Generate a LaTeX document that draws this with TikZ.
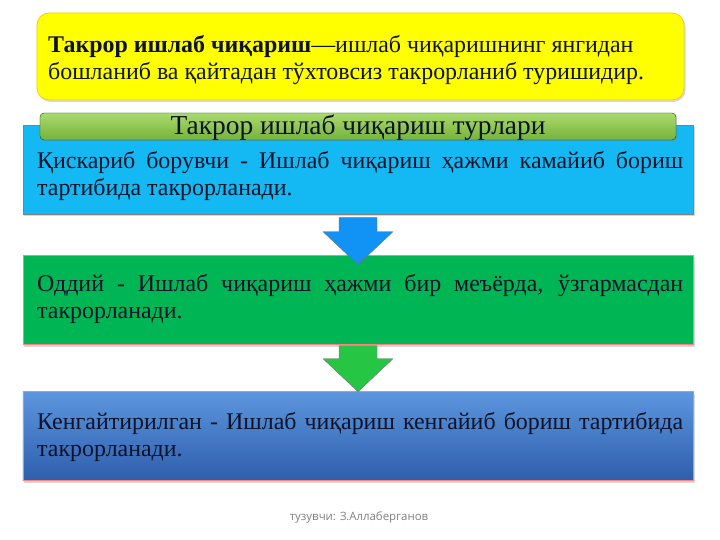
\documentclass[tikz,border=0pt]{standalone}
\usepackage{fontspec}
\setmainfont{Liberation Serif}
\newfontfamily\footfont{Open Sans}
\usetikzlibrary{calc,positioning,shadows}
\definecolor{defyellow}{RGB}{255,255,0}
\definecolor{barlight}{RGB}{170,218,110}
\definecolor{bardark}{RGB}{118,178,58}
\definecolor{kindcyan}{RGB}{20,184,242}
\definecolor{kindgreen}{RGB}{0,182,84}
\definecolor{kindbluetop}{RGB}{92,150,222}
\definecolor{kindbluebot}{RGB}{46,94,172}
\definecolor{inkdark}{RGB}{12,18,40}
\tikzset{defbox/.style = {rectangle, rounded corners=12bp, draw=yellow!65!orange, fill=defyellow, thick, minimum width=647bp, minimum height=87bp,
            drop shadow={opacity=.3,shadow xshift=1.5bp,shadow yshift=-2bp}},
        titlebar/.style = {rectangle, rounded corners=4bp, draw=green!35!black, top color=barlight, bottom color=bardark, minimum width=636bp, minimum height=27bp, inner sep=0pt,
            drop shadow={opacity=.3,shadow xshift=1bp,shadow yshift=-1.5bp}},
        kind/.style = {rectangle, draw=red!50!white, minimum width=670bp, minimum height=89bp, inner sep=0pt,
            drop shadow={opacity=.3,shadow xshift=1.5bp,shadow yshift=-2bp}},
        kindtext/.style = {anchor=west, text width=646bp, align=justify, inner sep=0pt, text=inkdark, font=\fontsize{24}{27.5}\selectfont},
        arrowbody/.style = {draw=black!55, thin}
}
% #1 from node, #2 fill, #3 shaft top, #4 head start, #5 tip
\newcommand\DownArrow[5]{%
    \draw[arrowbody,fill=#2] ($(#1.south)+(-19,#3)$) -- ($(#1.south)+(19,#3)$) -- ($(#1.south)+(19,#4)$)
        -- ($(#1.south)+(35,#4)$) -- ($(#1.south)+(0,#5)$) -- ($(#1.south)+(-35,#4)$) -- ($(#1.south)+(-19,#4)$) -- cycle;
    }

\begin{document}
\begin{tikzpicture}[x=1bp,y=-1bp]
    \useasboundingbox (0,0) rectangle (720,540);
    \fill[white] (0,0) rectangle (720,540);

    % definition
    \node[defbox] (def) at (360.5,56.5) {};
    \node[anchor=west, inner sep=0pt, align=left, text=inkdark, font=\fontsize{24}{27.5}\selectfont] (deftext) at (48,60)
        {\textbf{Такрор ишлаб чиқариш}—ишлаб чиқаришнинг янгидан\\бошланиб ва қайтадан тўхтовсиз такрорланиб туришидир.};

    % three kinds
    \node[kind, draw=black!50, fill=kindcyan] (short) at (358,170) {};
    \node[kind, fill=kindgreen] (simple) at (358,300) {};
    \node[kind, top color=kindbluetop, bottom color=kindbluebot] (wide) at (358,436) {};

    \node[titlebar] (bar) at (358,126.5) {};
    \node[font=\fontsize{27.5}{30}\selectfont, inner sep=0pt, text=inkdark] (bartext) at ([yshift=-1bp]bar.center) {Такрор ишлаб чиқариш турлари};

    \node[kindtext] (shorttext) at (37,176) {Қискариб борувчи - Ишлаб чиқариш ҳажми камайиб бориш\linebreak тартибида такрорланади.};
    \node[kindtext] (simpletext) at (37,299) {Оддий - Ишлаб чиқариш ҳажми бир меъёрда, ўзгармасдан\linebreak такрорланади.};
    \node[kindtext] (widetext) at (37,437) {Кенгайтирилган - Ишлаб чиқариш кенгайиб бориш тартибида\linebreak такрорланади.};

    % arrows
    \DownArrow{short}{kindcyan!80!blue}{3}{17}{50};
    \DownArrow{simple}{kindgreen!80!lime}{1}{14}{47};

    \node[font=\footfont\fontsize{11.5}{13}\selectfont, text=black!50] (author) at (359,517) {тузувчи: З.Аллаберганов};
\end{tikzpicture}
\end{document}
